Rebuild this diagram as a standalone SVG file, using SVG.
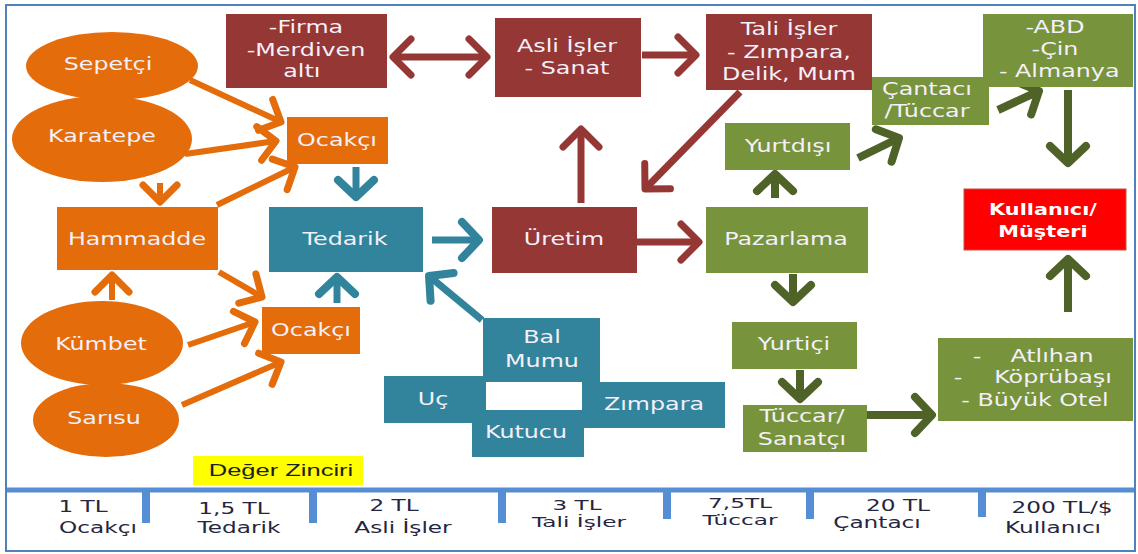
<svg xmlns="http://www.w3.org/2000/svg" width="1138" height="554" viewBox="0 0 1138 554">
  <defs>
    <style>
      .t { font-family: "DejaVu Sans", "Noto Sans", sans-serif; font-size: 17px; fill: #F4F0FA; text-anchor: middle; }
      .tb { font-family: "DejaVu Sans", "Noto Sans", sans-serif; font-size: 16px; font-weight: bold; fill: #FFFFFF; text-anchor: middle; }
      .lbl { font-family: "DejaVu Sans", "Noto Sans", sans-serif; font-size: 16px; fill: #262640; text-anchor: middle; }
      .lbs { font-family: "DejaVu Sans", "Noto Sans", sans-serif; font-size: 14.5px; fill: #262640; text-anchor: middle; }
      .key { font-family: "Liberation Sans", Arial, sans-serif; font-size: 17px; fill: #1E1E1E; text-anchor: middle; }
      .org { fill: #E46C0A; }
      .red { fill: #953735; }
      .teal { fill: #31849B; }
      .grn { fill: #77933C; }
      .c-org { stroke: #E46C0A; stroke-width: 6; fill: none; }
      .c-red { stroke: #953735; stroke-width: 7; fill: none; }
      .c-teal { stroke: #31849B; stroke-width: 7; fill: none; }
      .c-grn { stroke: #4F6228; stroke-width: 8; fill: none; }
    </style>
    <marker id="hOrg" markerUnits="userSpaceOnUse" viewBox="-30 -25 35 50" markerWidth="35" markerHeight="50" refX="0" refY="0" orient="auto-start-reverse" overflow="visible">
      <path d="M-17,-17 L0,0 L-17,17" fill="none" stroke="#E46C0A" stroke-width="7" stroke-linecap="round" stroke-linejoin="round"/>
    </marker>
    <marker id="hRed" markerUnits="userSpaceOnUse" viewBox="-30 -25 35 50" markerWidth="35" markerHeight="50" refX="0" refY="0" orient="auto-start-reverse" overflow="visible">
      <path d="M-18,-18 L0,0 L-18,18" fill="none" stroke="#953735" stroke-width="7" stroke-linecap="round" stroke-linejoin="round"/>
    </marker>
    <marker id="hTeal" markerUnits="userSpaceOnUse" viewBox="-30 -25 35 50" markerWidth="35" markerHeight="50" refX="0" refY="0" orient="auto-start-reverse" overflow="visible">
      <path d="M-17,-18 L0,0 L-17,18" fill="none" stroke="#31849B" stroke-width="8" stroke-linecap="round" stroke-linejoin="round"/>
    </marker>
    <marker id="hGrn" markerUnits="userSpaceOnUse" viewBox="-30 -25 35 50" markerWidth="35" markerHeight="50" refX="0" refY="0" orient="auto-start-reverse" overflow="visible">
      <path d="M-17,-18 L0,0 L-17,18" fill="none" stroke="#4F6228" stroke-width="8" stroke-linecap="round" stroke-linejoin="round"/>
    </marker>
  </defs>

  <!-- frame -->
  <rect x="0" y="0" width="1138" height="554" fill="#FFFFFF"/>
  <rect x="6" y="5" width="1129" height="546" fill="#FFFFFF" stroke="#4F81BD" stroke-width="2"/>

  <!-- value scale along the bottom -->
  <g id="scale">
    <line x1="7" y1="490" x2="1134" y2="490" stroke="#558ED5" stroke-width="5"/>
    <g fill="#558ED5">
      <rect x="142" y="490" width="8" height="33"/>
      <rect x="309" y="490" width="8" height="33"/>
      <rect x="498" y="490" width="8" height="33"/>
      <rect x="663" y="490" width="8" height="29"/>
      <rect x="806" y="490" width="8" height="29"/>
      <rect x="978" y="490" width="8" height="27"/>
    </g>
    <text class="lbl" transform="translate(83,512) scale(1.45,1)">1 TL</text>
    <text class="lbl" transform="translate(98,533) scale(1.45,1)">Ocakçı</text>
    <text class="lbl" transform="translate(234,514) scale(1.45,1)">1,5 TL</text>
    <text class="lbl" transform="translate(239,533) scale(1.45,1)">Tedarik</text>
    <text class="lbl" transform="translate(394,511) scale(1.45,1)">2 TL</text>
    <text class="lbl" transform="translate(403,533) scale(1.45,1)">Asli İşler</text>
    <text class="lbs" transform="translate(577,510) scale(1.6,1)">3 TL</text>
    <text class="lbs" transform="translate(579,527) scale(1.6,1)">Tali İşler</text>
    <text class="lbs" transform="translate(740,508) scale(1.6,1)">7,5TL</text>
    <text class="lbs" transform="translate(740,525) scale(1.6,1)">Tüccar</text>
    <text class="lbl" transform="translate(898,511) scale(1.45,1)">20 TL</text>
    <text class="lbl" transform="translate(877,528) scale(1.45,1)">Çantacı</text>
    <text class="lbl" transform="translate(1062,513) scale(1.45,1)">200 TL/$</text>
    <text class="lbl" transform="translate(1053,533) scale(1.45,1)">Kullanıcı</text>
  </g>

  <g id="deger-zinciri">
    <rect x="193" y="456" width="170" height="29" fill="#FFFF00"/>
    <text class="key" transform="translate(281,476) scale(1.5,1)">Değer Zinciri</text>
  </g>

  <!-- connectors -->
  <g id="connectors">
    <line class="c-org" x1="190" y1="80" x2="281" y2="122" marker-end="url(#hOrg)"/>
    <line class="c-org" x1="185" y1="154" x2="276" y2="141" marker-end="url(#hOrg)"/>
    <line class="c-org" x1="160" y1="183" x2="160" y2="202" marker-end="url(#hOrg)"/>
    <line class="c-org" x1="217" y1="205" x2="295" y2="167" marker-end="url(#hOrg)"/>
    <line class="c-org" x1="112" y1="300" x2="112" y2="275" marker-end="url(#hOrg)"/>
    <line class="c-org" x1="219" y1="272" x2="262" y2="297" marker-end="url(#hOrg)"/>
    <line class="c-org" x1="188" y1="345" x2="255" y2="322" marker-end="url(#hOrg)"/>
    <line class="c-org" x1="182" y1="405" x2="281" y2="362" marker-end="url(#hOrg)"/>

    <line class="c-teal" x1="356" y1="167" x2="356" y2="197" marker-end="url(#hTeal)"/>
    <line class="c-teal" x1="337" y1="303" x2="337" y2="277" marker-end="url(#hTeal)"/>
    <line class="c-teal" x1="432" y1="240" x2="479" y2="240" marker-end="url(#hTeal)"/>
    <line class="c-teal" x1="482" y1="320" x2="429" y2="276" marker-end="url(#hTeal)"/>

    <line class="c-red" x1="393" y1="57" x2="487" y2="57" marker-start="url(#hRed)" marker-end="url(#hRed)"/>
    <line class="c-red" x1="642" y1="55" x2="696" y2="55" marker-end="url(#hRed)"/>
    <line class="c-red" x1="581" y1="203" x2="581" y2="129" marker-end="url(#hRed)"/>
    <line class="c-red" x1="740" y1="92" x2="645" y2="189" marker-end="url(#hRed)"/>
    <line class="c-red" x1="637" y1="242" x2="699" y2="242" marker-end="url(#hRed)"/>

    <line class="c-grn" x1="775" y1="198" x2="775" y2="174" marker-end="url(#hGrn)"/>
    <line class="c-grn" x1="858" y1="158" x2="899" y2="138" marker-end="url(#hGrn)"/>
    <line class="c-grn" x1="998" y1="110" x2="1039" y2="91" marker-end="url(#hGrn)"/>
    <line class="c-grn" x1="1068" y1="90" x2="1068" y2="163" marker-end="url(#hGrn)"/>
    <line class="c-grn" x1="1068" y1="312" x2="1068" y2="259" marker-end="url(#hGrn)"/>
    <line class="c-grn" x1="793" y1="274" x2="793" y2="302" marker-end="url(#hGrn)"/>
    <line class="c-grn" x1="800" y1="370" x2="800" y2="399" marker-end="url(#hGrn)"/>
    <line class="c-grn" x1="867" y1="415" x2="932" y2="415" marker-end="url(#hGrn)"/>
  </g>

  <!-- raw material sources -->
  <g id="sepetci">
    <ellipse class="org" cx="112" cy="66" rx="86" ry="34"/>
    <text class="t" transform="translate(108,70) scale(1.4,1)">Sepetçi</text>
  </g>
  <g id="karatepe">
    <ellipse class="org" cx="102" cy="139" rx="90" ry="43"/>
    <text class="t" transform="translate(102,142) scale(1.4,1)">Karatepe</text>
  </g>
  <g id="kumbet">
    <ellipse class="org" cx="102" cy="343" rx="81" ry="42"/>
    <text class="t" transform="translate(101,350) scale(1.4,1)">Kümbet</text>
  </g>
  <g id="sarisu">
    <ellipse class="org" cx="106" cy="420" rx="73" ry="37"/>
    <text class="t" transform="translate(104,424) scale(1.4,1)">Sarısu</text>
  </g>
  <g id="hammadde">
    <rect class="org" x="57" y="207" width="161" height="63"/>
    <text class="t" transform="translate(137,245) scale(1.4,1)">Hammadde</text>
  </g>
  <g id="ocakci-ust">
    <rect class="org" x="287" y="117" width="101" height="47"/>
    <text class="t" transform="translate(337,146) scale(1.4,1)">Ocakçı</text>
  </g>
  <g id="ocakci-alt">
    <rect class="org" x="262" y="307" width="98" height="47"/>
    <text class="t" transform="translate(311,336) scale(1.4,1)">Ocakçı</text>
  </g>

  <!-- supply -->
  <g id="tedarik">
    <rect class="teal" x="269" y="207" width="154" height="65"/>
    <text class="t" transform="translate(345,245) scale(1.4,1)">Tedarik</text>
  </g>
  <g id="bal-mumu">
    <rect class="teal" x="483" y="318" width="117" height="64"/>
    <text class="t" transform="translate(542,343) scale(1.4,1)"><tspan x="0">Bal</tspan><tspan x="0" dy="24">Mumu</tspan></text>
  </g>
  <g id="uc">
    <rect class="teal" x="384" y="376" width="102" height="47"/>
    <text class="t" transform="translate(433,405) scale(1.4,1)">Uç</text>
  </g>
  <g id="zimpara">
    <rect class="teal" x="582" y="382" width="143" height="46"/>
    <text class="t" transform="translate(654,410) scale(1.4,1)">Zımpara</text>
  </g>
  <g id="kutucu">
    <rect class="teal" x="472" y="410" width="112" height="47"/>
    <text class="t" transform="translate(526,438) scale(1.4,1)">Kutucu</text>
  </g>

  <!-- production -->
  <g id="firma">
    <rect class="red" x="226" y="14" width="161" height="74"/>
    <text class="t" transform="translate(306,33) scale(1.4,1)"><tspan x="0">-Firma</tspan><tspan x="0" dy="23">-Merdiven</tspan><tspan x="-3" dy="21">altı</tspan></text>
  </g>
  <g id="asli-isler">
    <rect class="red" x="495" y="18" width="146" height="79"/>
    <text class="t" transform="translate(567,52) scale(1.4,1)"><tspan x="0">Asli İşler</tspan><tspan x="0" dy="22">- Sanat</tspan></text>
  </g>
  <g id="tali-isler">
    <rect class="red" x="706" y="14" width="166" height="76"/>
    <text class="t" transform="translate(789,35) scale(1.4,1)"><tspan x="0">Tali İşler</tspan><tspan x="0" dy="23">- Zımpara,</tspan><tspan x="0" dy="22">Delik, Mum</tspan></text>
  </g>
  <g id="uretim">
    <rect class="red" x="492" y="207" width="145" height="66"/>
    <text class="t" transform="translate(564,245) scale(1.4,1)">Üretim</text>
  </g>

  <!-- marketing -->
  <g id="pazarlama">
    <rect class="grn" x="706" y="207" width="162" height="66"/>
    <text class="t" transform="translate(786,245) scale(1.4,1)">Pazarlama</text>
  </g>
  <g id="yurtdisi">
    <rect class="grn" x="725" y="123" width="125" height="47"/>
    <text class="t" transform="translate(788,152) scale(1.4,1)">Yurtdışı</text>
  </g>
  <g id="cantaci">
    <rect class="grn" x="872" y="77" width="117" height="48"/>
    <text class="t" transform="translate(927,95) scale(1.4,1)"><tspan x="0">Çantacı</tspan><tspan x="0" dy="22">/Tüccar</tspan></text>
  </g>
  <g id="yurtdisi-pazar">
    <rect class="grn" x="983" y="14" width="150" height="73"/>
    <text class="t" transform="translate(1055,33) scale(1.4,1)"><tspan x="0">-ABD</tspan><tspan x="0" dy="22">-Çin</tspan><tspan x="3" dy="22">- Almanya</tspan></text>
  </g>
  <g id="yurtici">
    <rect class="grn" x="732" y="322" width="125" height="47"/>
    <text class="t" transform="translate(794,350) scale(1.4,1)">Yurtiçi</text>
  </g>
  <g id="tuccar-sanatci">
    <rect class="grn" x="743" y="405" width="124" height="47"/>
    <text class="t" transform="translate(802,422) scale(1.4,1)"><tspan x="0">Tüccar/</tspan><tspan x="0" dy="23">Sanatçı</tspan></text>
  </g>
  <g id="yurtici-pazar">
    <rect class="grn" x="938" y="338" width="195" height="83"/>
    <text class="t" transform="translate(977,362) scale(1.4,1)">-</text>
    <text class="t" transform="translate(1052,362) scale(1.4,1)">Atlıhan</text>
    <text class="t" transform="translate(958,383) scale(1.4,1)">-</text>
    <text class="t" transform="translate(1053,383) scale(1.4,1)">Köprübaşı</text>
    <text class="t" transform="translate(1035,406) scale(1.4,1)">- Büyük Otel</text>
  </g>

  <!-- end customer -->
  <g id="kullanici">
    <rect x="964" y="189" width="162" height="61" fill="#FF0000" stroke="#C0504D" stroke-width="1"/>
    <text class="tb" transform="translate(1043,215) scale(1.3,1)"><tspan x="0">Kullanıcı/</tspan><tspan x="0" dy="22">Müşteri</tspan></text>
  </g>
</svg>
